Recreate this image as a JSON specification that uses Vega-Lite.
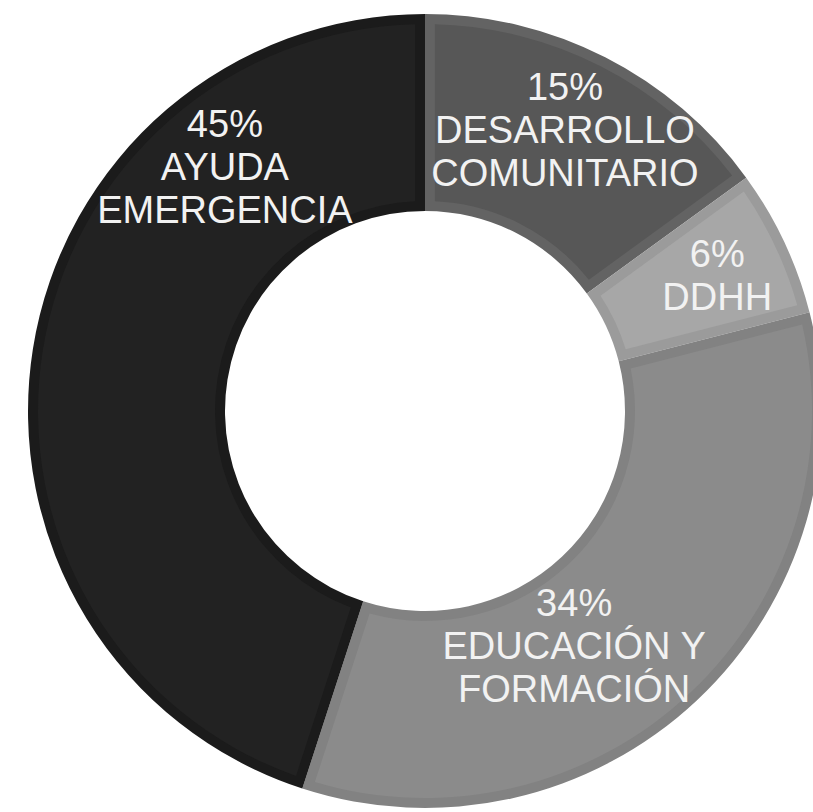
{
  "$schema": "https://vega.github.io/schema/vega-lite/v6.json",
  "width": 776,
  "height": 802,
  "autosize": {"type": "none"},
  "padding": {"left": 37, "top": 10, "right": 0, "bottom": 0},
  "background": "white",
  "config": {"view": {"stroke": null}},
  "datasets": {
    "sectores": [
      {"categoria": "Desarrollo comunitario", "porcentaje": 15, "orden": 1},
      {"categoria": "DDHH", "porcentaje": 6, "orden": 2},
      {"categoria": "Educación y formación", "porcentaje": 34, "orden": 3},
      {"categoria": "Ayuda emergencia", "porcentaje": 45, "orden": 4}
    ],
    "etiquetas": [
      {"texto": ["15%", "DESARROLLO", "COMUNITARIO"], "angulo": 23.5, "distancia": 351},
      {"texto": ["6%", "DDHH"], "angulo": 62.0, "distancia": 331},
      {"texto": ["34%", "EDUCACIÓN Y", "FORMACIÓN"], "angulo": 142.5, "distancia": 245},
      {"texto": ["45%", "AYUDA", "EMERGENCIA"], "angulo": 324.9, "distancia": 348}
    ]
  },
  "layer": [
    {
      "data": {"name": "sectores"},
      "mark": {"type": "arc", "innerRadius": 200, "outerRadius": 397},
      "encoding": {
        "theta": {"field": "porcentaje", "type": "quantitative", "stack": true},
        "order": {"field": "orden", "type": "quantitative"},
        "color": {
          "field": "categoria",
          "type": "nominal",
          "scale": {
            "domain": ["Desarrollo comunitario", "DDHH", "Educación y formación", "Ayuda emergencia"],
            "range": ["#636363", "#9b9b9b", "#828282", "#1b1b1b"]
          },
          "legend": null
        }
      }
    },
    {
      "data": {"name": "sectores"},
      "mark": {"type": "arc", "innerRadius": 210, "outerRadius": 387, "padAngle": 0.045},
      "encoding": {
        "theta": {"field": "porcentaje", "type": "quantitative", "stack": true},
        "order": {"field": "orden", "type": "quantitative"},
        "color": {
          "field": "categoria",
          "type": "nominal",
          "scale": {
            "domain": ["Desarrollo comunitario", "DDHH", "Educación y formación", "Ayuda emergencia"],
            "range": ["#575757", "#a7a7a7", "#8b8b8b", "#222222"]
          },
          "legend": null
        }
      }
    },
    {
      "data": {"name": "etiquetas"},
      "mark": {
        "type": "text",
        "font": "Liberation Sans",
        "fontSize": 38,
        "lineHeight": 43,
        "align": "center",
        "baseline": "middle",
        "color": "#f2f2f2"
      },
      "encoding": {
        "theta": {"field": "angulo", "type": "quantitative", "stack": null, "scale": {"domain": [0, 360]}},
        "radius": {"field": "distancia", "type": "quantitative", "scale": {"type": "linear", "domain": [0, 400], "range": [0, 400]}},
        "text": {"field": "texto"}
      }
    }
  ],
  "resolve": {"scale": {"color": "independent", "theta": "independent"}}
}
